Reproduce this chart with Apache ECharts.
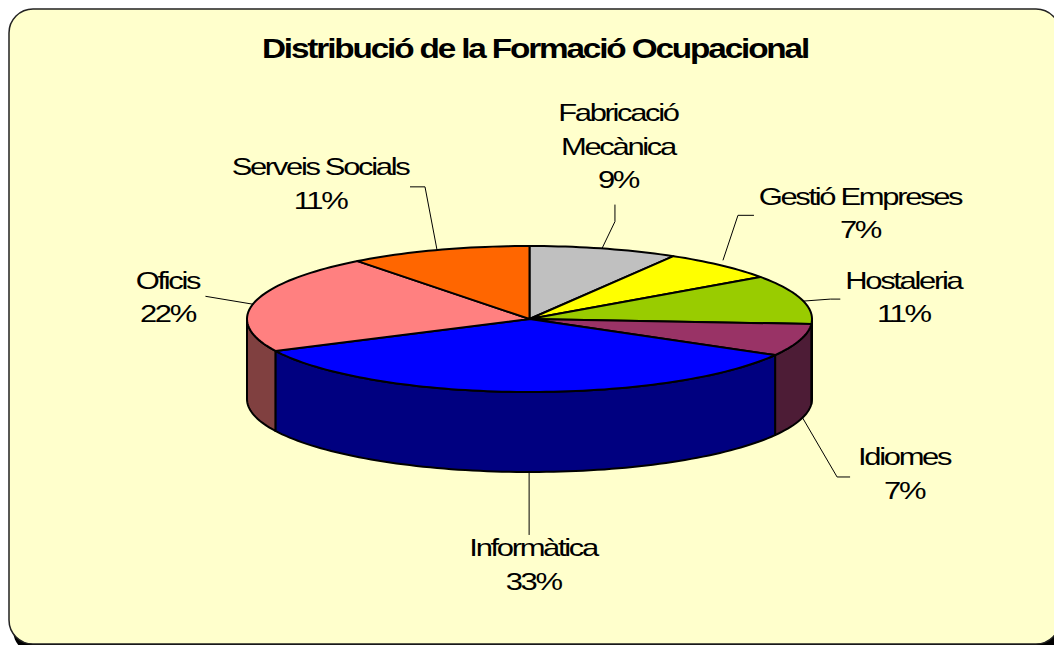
<!DOCTYPE html>
<html><head><meta charset="utf-8">
<script src="https://cdn.jsdelivr.net/npm/echarts@6/dist/echarts.min.js"></script>
<style>
html,body{margin:0;padding:0;background:#fff}
#chart{width:1054px;height:645px;overflow:hidden}
#chart text{letter-spacing:-1.8px}
</style></head><body><div id="chart"></div>
<script>
const titleText = 'Distribució de la Formació Ocupacional';
const categories = ['Fabricació\nMecànica','Gestió Empreses','Hostaleria','Idiomes','Informàtica','Oficis','Serveis Socials'];
const shares = [9,7,11,7,33,22,11];
const topColors = ['#C0C0C0','#FFFF00','#99CC00','#993366','#0000FF','#FF8080','#FF6600'];
const wallColors = ['#606060','#808000','#4D6600','#4D1C36','#000080','#804040','#803300'];

// projection of the tilted disc
const cx=529.5, cy=319, rx=282.5, ry=73, depth=80, perspective=3.3;
// label and leader offsets from each slice's rim anchor
const labelOffsets=[[14,-102],[139,-52],[102,-2],[104,54],[13,93],[-88,-4],[-119,-66]];
const leaderOffsets=[
  [[-2,0],[11,-27],[11,-44]],
  [[2,-5],[17,-50],[33,-50]],
  [[2,2],[29,0],[39,0]],
  [[2,-3],[37,57],[50,57]],
  [[9,-1],[9,63]],
  [[-2,3],[-50,-5]],
  [[-2,0],[-14,-63],[-29,-63]]
];

const total=shares.reduce((a,b)=>a+b,0);
const starts=[]; let run=0; shares.forEach(v=>{starts.push(run);run+=v;});
const rad=d=>d*Math.PI/180;
// share position -> view angle clockwise from 12 o'clock, front of disc enlarged by perspective
const view=p=>{const t=p/total*360;return t-perspective*Math.sin(rad(t));};
const rim=(a,dy=0)=>[cx+rx*Math.sin(rad(a)),cy-ry*Math.cos(rad(a))+dy];
function arc(a0,a1,dy){const n=Math.max(2,Math.ceil((a1-a0)/1.5));const pts=[];
  for(let i=0;i<=n;i++)pts.push(rim(a0+(a1-a0)*i/n,dy));return pts;}

const edge={stroke:'#000',lineWidth:2,lineJoin:'round'};
function renderSlice(params,api){
  const i=params.dataIndex, v=api.value(0);
  const a0=view(starts[i]), a1=view(starts[i]+v);
  const children=[];
  const w0=Math.max(a0,90), w1=Math.min(a1,270);
  if(w1>w0){
    const front=arc(w0,w1,0), back=arc(w0,w1,depth).reverse();
    children.push({type:'polygon',shape:{points:front.concat(back)},
      style:Object.assign({fill:wallColors[i]},edge)});
  }
  children.push({type:'polygon',shape:{points:[[cx,cy]].concat(arc(a0,a1,0))},
    style:Object.assign({fill:topColors[i]},edge)});
  return {type:'group',children};
}
function renderLabel(params,api){
  const i=params.dataIndex, v=api.value(0);
  const a=view(starts[i]+v/2);
  const onFront=Math.cos(rad(a))<-0.25;
  const p=rim(a,onFront?depth:0);
  const line=leaderOffsets[i].map(o=>[p[0]+o[0],p[1]+o[1]]);
  return {type:'group',children:[
    {type:'polyline',shape:{points:line},style:{fill:'none',stroke:'#000',lineWidth:1}},
    {type:'text',x:p[0]+labelOffsets[i][0],y:p[1]+labelOffsets[i][1],scaleX:1.29,
     style:{text:categories[i]+'\n'+api.value(0)+'%',fill:'#000',align:'center',verticalAlign:'middle',
       font:'24px "Liberation Sans", Arial, sans-serif',lineHeight:33.5}}
  ]};
}
const data=shares.map((v,i)=>({value:[v],name:categories[i]}));
const chart=echarts.init(document.getElementById('chart'),null,{renderer:'svg'});
chart.setOption({
  animation:false,
  backgroundColor:'#FFFFFF',
  graphic:[
    {type:'rect',z:-10,shape:{x:13,y:14,width:1051,height:640,r:24},style:{fill:'#000'},silent:true},
    {type:'rect',z:-9,shape:{x:9,y:9,width:1051,height:635,r:24},style:{fill:'#FFFFCC',stroke:'#222',lineWidth:1.5},silent:true},
    {type:'text',z:5,x:535,y:48,scaleX:1.19,silent:true,
     style:{text:titleText,fill:'#000',align:'center',verticalAlign:'middle',
       font:'bold 28px "Liberation Sans", Arial, sans-serif'}}
  ],
  series:[
    {type:'custom',coordinateSystem:'none',renderItem:renderSlice,data,silent:true,z:2},
    {type:'custom',coordinateSystem:'none',renderItem:renderLabel,data,silent:true,z:3}
  ]
});
</script></body></html>
